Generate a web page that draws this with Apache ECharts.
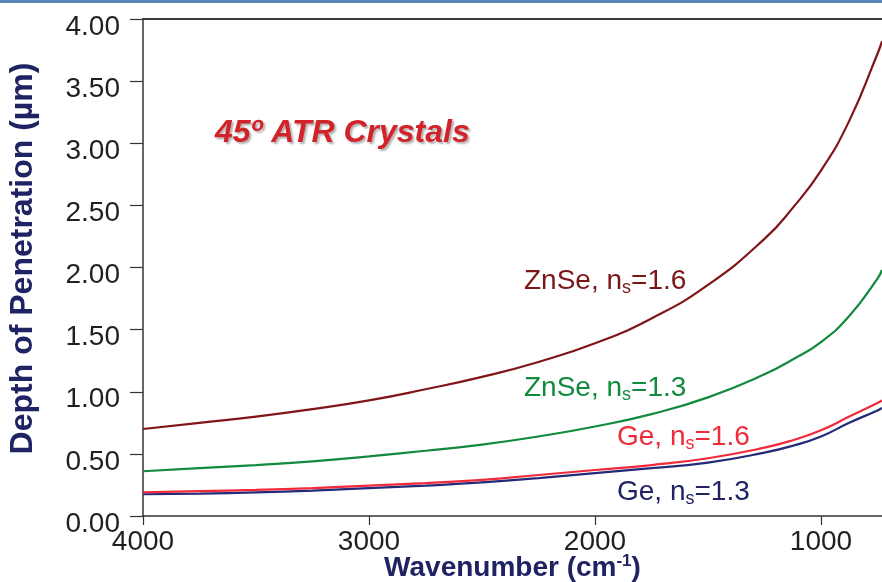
<!DOCTYPE html>
<html>
<head>
<meta charset="utf-8">
<script src="https://cdn.jsdelivr.net/npm/echarts@6/dist/echarts.min.js"></script>
<style>
    html, body { margin: 0; padding: 0; background: #fff; }
    #MainContent { width: 882px; height: 582px; }
</style>
</head>
<body>
<div id="MainContent"></div>
<script>
// wavenumber (cm-1) and depth of penetration (um)
var wavenumbers = [4000, 3750, 3500, 3250, 3000, 2750, 2500, 2250, 2000, 1750, 1500, 1250, 1125, 1000, 875, 750, 730];
var znse16 = [0.70, 0.75, 0.80, 0.86, 0.93, 1.02, 1.12, 1.24, 1.39, 1.59, 1.86, 2.23, 2.48, 2.78, 3.18, 3.72, 3.82];
var znse13 = [0.36, 0.385, 0.41, 0.44, 0.48, 0.525, 0.575, 0.64, 0.72, 0.82, 0.955, 1.14, 1.26, 1.40, 1.61, 1.91, 1.98];
var ge16 = [0.19, 0.20, 0.21, 0.225, 0.245, 0.265, 0.29, 0.33, 0.37, 0.41, 0.465, 0.55, 0.61, 0.69, 0.80, 0.91, 0.93];
var ge13 = [0.175, 0.18, 0.19, 0.205, 0.225, 0.245, 0.27, 0.305, 0.345, 0.385, 0.43, 0.51, 0.565, 0.64, 0.75, 0.85, 0.87];
var xTicks = [4000, 3000, 2000, 1000];

var FONT = '"Liberation Sans", Arial, sans-serif';
var NAVY = '#1f2263';

function pairs(values) {
    return wavenumbers.map(function (w, i) { return [w, values[i]]; });
}

function lineSeries(name, values, color) {
    return {
        name: name,
        type: 'line',
        data: pairs(values),
        smooth: 0.5,
        showSymbol: false,
        silent: true,
        lineStyle: { color: color, width: 2.2 }
    };
}

function seriesLabel(x, y, main, tail, color) {
    return {
        type: 'text',
        x: x,
        y: y,
        silent: true,
        style: {
            text: '{a|' + main + '}{s|s}{a|' + tail + '}',
            fill: color,
            verticalAlign: 'middle',
            rich: {
                a: { fontSize: 28, fontFamily: FONT, lineHeight: 32, fill: color },
                s: { fontSize: 18, fontFamily: FONT, lineHeight: 20, verticalAlign: 'bottom', fill: color }
            }
        }
    };
}

function draw() {
    var chart = echarts.init(document.getElementById('MainContent'));

    var option = {
        animation: false,
        title: {
            text: '45º ATR Crystals',
            left: 210,
            top: 112,
            textStyle: {
                fontFamily: FONT,
                fontSize: 32,
                fontWeight: 'bold',
                fontStyle: 'italic',
                color: '#d2232a',
                textShadowColor: 'rgba(0,0,0,0.3)',
                textShadowOffsetX: 2,
                textShadowOffsetY: 2,
                textShadowBlur: 2
            }
        },
        grid: { left: 143, top: 19, right: 0, bottom: 66, outerBoundsMode: 'none', containLabel: false },
        xAxis: [{
            type: 'value',
            inverse: true,
            min: 730,
            max: 4000,
            name: '{a|Wavenumber (cm}{b|-1}{a|)}',
            nameLocation: 'middle',
            nameGap: 37,
            nameMoveOverlap: false,
            nameTextStyle: {
                rich: {
                    a: { fontFamily: FONT, fontSize: 28, fontWeight: 'bold', color: NAVY, lineHeight: 30 },
                    b: { fontFamily: FONT, fontSize: 17, fontWeight: 'bold', color: NAVY, lineHeight: 17, verticalAlign: 'top' }
                }
            },
            axisLine: { show: true, lineStyle: { color: '#333', width: 1.5 } },
            axisTick: { show: true, length: 9, customValues: xTicks, lineStyle: { color: '#333', width: 1.2 } },
            axisLabel: {
                customValues: xTicks, fontFamily: FONT, fontSize: 28, color: '#231f20', margin: 12,
                formatter: function (v) { return String(v); }
            },
            splitLine: { show: false }
        }, {
            type: 'value',
            position: 'top',
            inverse: true,
            min: 730,
            max: 4000,
            axisLine: { show: true, lineStyle: { color: '#3a3a3a', width: 2 } },
            axisTick: { show: false },
            axisLabel: { show: false },
            splitLine: { show: false }
        }],
        yAxis: {
            type: 'value',
            min: 0,
            max: 4,
            interval: 0.5,
            name: 'Depth of Penetration (µm)',
            nameLocation: 'middle',
            nameGap: 104,
            nameMoveOverlap: false,
            nameTextStyle: { fontFamily: FONT, fontSize: 32, fontWeight: 'bold', color: NAVY, padding: [0, 0, 0, 18] },
            axisLine: { show: true, lineStyle: { color: '#333', width: 1.5 } },
            axisTick: { show: true, length: 13, lineStyle: { color: '#333', width: 1.2 } },
            axisLabel: {
                fontFamily: FONT, fontSize: 28, color: '#231f20', margin: 23,
                verticalAlign: 'top', lineHeight: 16,
                formatter: function (v) { return v.toFixed(2); }
            },
            splitLine: { show: false }
        },
        graphic: [
            { type: 'rect', shape: { x: 0, y: 0, width: 882, height: 3 }, style: { fill: '#5b87b8' }, silent: true },
            seriesLabel(524, 281, 'ZnSe, n', '=1.6', '#7b1518'),
            seriesLabel(524, 388, 'ZnSe, n', '=1.3', '#128a3e'),
            seriesLabel(617, 437, 'Ge, n', '=1.6', '#ef2b3b'),
            seriesLabel(617, 492, 'Ge, n', '=1.3', NAVY)
        ],
        series: [
            lineSeries('ZnSe, ns=1.3', znse13, '#128a3e'),
            lineSeries('Ge, ns=1.3', ge13, '#232a78'),
            lineSeries('Ge, ns=1.6', ge16, '#ef2b3b'),
            lineSeries('ZnSe, ns=1.6', znse16, '#7f1518')
        ]
    };

    chart.setOption(option);
    window.onresize = chart.resize;
}

draw();
</script>
</body>
</html>
